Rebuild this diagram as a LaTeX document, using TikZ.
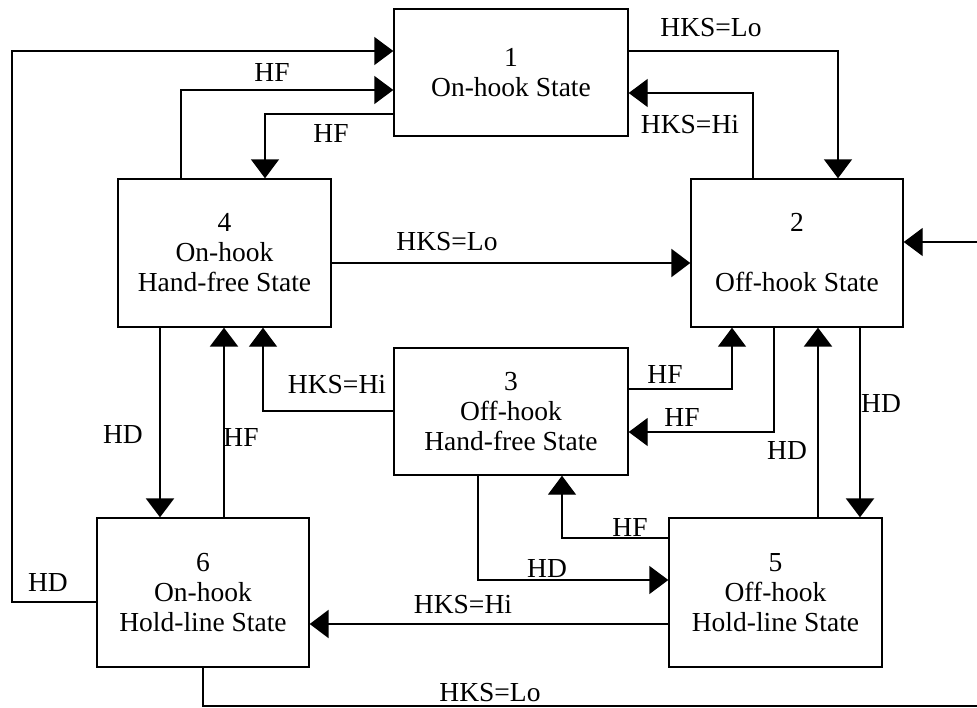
\documentclass[tikz,border=0pt]{standalone}
\usepackage{fontspec}
\setmainfont{Liberation Serif}
\usetikzlibrary{arrows.meta}
\begin{document}
\begin{tikzpicture}[x=1pt,y=-1pt,
  every node/.style={font=\fontsize{27.5}{30}\selectfont},
  box/.style={draw,line width=1.4pt,align=center,inner sep=0pt},
  lbl/.style={inner sep=0pt},
  thin1/.style={line width=1.4pt},
  thick1/.style={line width=2.7pt},
  arr/.style={-{Triangle[length=19pt,width=28pt]}}]
\useasboundingbox (0,0) rectangle (977,707);
% boxes
\node[box,minimum width=234pt,minimum height=127pt] (b1) at (511,72.5) {1\\On-hook State};
\node[box,minimum width=212pt,minimum height=148pt] (b2) at (797,253) {2\\[30pt]Off-hook State};
\node[box,minimum width=234pt,minimum height=127pt] (b3) at (511,411.5) {3\\Off-hook\\Hand-free State};
\node[box,minimum width=213pt,minimum height=148pt] (b4) at (224.5,253) {4\\On-hook\\Hand-free State};
\node[box,minimum width=213pt,minimum height=149pt] (b5) at (775.5,592.5) {5\\Off-hook\\Hold-line State};
\node[box,minimum width=212pt,minimum height=149pt] (b6) at (203,592.5) {6\\On-hook\\Hold-line State};
% free ends
\coordinate (rin) at (977,242);
\coordinate (rbot) at (977,706);
% connectors
\draw[thin1,arr] (b6.west |- 0,602) -- (12,602) -- (12,51) -- (b1.west |- 0,51);
\draw[thin1,arr] (b4.north -| 181,0) -- (181,90) -- (b1.west |- 0,90);
\draw[thin1,arr] (b1.west |- 0,114) -- (265,114) -- (b4.north -| 265,0);
\draw[thin1,arr] (b1.east |- 0,51) -- (838,51) -- (b2.north -| 838,0);
\draw[thin1,arr] (b2.north -| 753,0) -- (753,93) -- (b1.east |- 0,93);
\draw[thick1,arr] (b4.east |- 0,263) -- (b2.west |- 0,263);
\draw[thin1,arr] (rin) -- (b2.east |- rin);
\draw[thin1] (b6.south) -- (b6.south |- rbot) -- (rbot);
\draw[thick1,arr] (b4.south -| 160,0) -- (b6.north -| 160,0);
\draw[thick1,arr] (b6.north -| 224,0) -- (b4.south -| 224,0);
\draw[thin1,arr] (b3.west |- 0,411) -- (263,411) -- (b4.south -| 263,0);
\draw[thin1,arr] (b3.east |- 0,389) -- (732,389) -- (b2.south -| 732,0);
\draw[thin1,arr] (b2.south -| 774,0) -- (774,432) -- (b3.east |- 0,432);
\draw[thick1,arr] (b5.north -| 818,0) -- (b2.south -| 818,0);
\draw[thick1,arr] (b2.south -| 860,0) -- (b5.north -| 860,0);
\draw[thin1,arr] (b5.west |- 0,538) -- (562,538) -- (b3.south -| 562,0);
\draw[thin1,arr] (b3.south -| 478,0) -- (478,580) -- (b5.west |- 0,580);
\draw[thick1,arr] (b5.west |- 0,624) -- (b6.east |- 0,624);
% labels
\node[lbl] (t1) at (48,583) {HD};
\node[lbl] (t2) at (272,72.5) {HF};
\node[lbl] (t3) at (331,133) {HF};
\node[lbl] (t4) at (711,28) {HKS=Lo};
\node[lbl] (t5) at (690,125) {HKS=Hi};
\node[lbl] (t6) at (447,242) {HKS=Lo};
\node[lbl] (t7) at (490,693) {HKS=Lo};
\node[lbl] (t8) at (123,435) {HD};
\node[lbl] (t9) at (241,437) {HF};
\node[lbl] (t10) at (337,385) {HKS=Hi};
\node[lbl] (t11) at (665,374) {HF};
\node[lbl] (t12) at (682,417) {HF};
\node[lbl] (t13) at (787,451) {HD};
\node[lbl] (t14) at (881,404) {HD};
\node[lbl] (t15) at (630,527) {HF};
\node[lbl] (t16) at (547,569) {HD};
\node[lbl] (t17) at (463,605) {HKS=Hi};
\end{tikzpicture}
\end{document}
